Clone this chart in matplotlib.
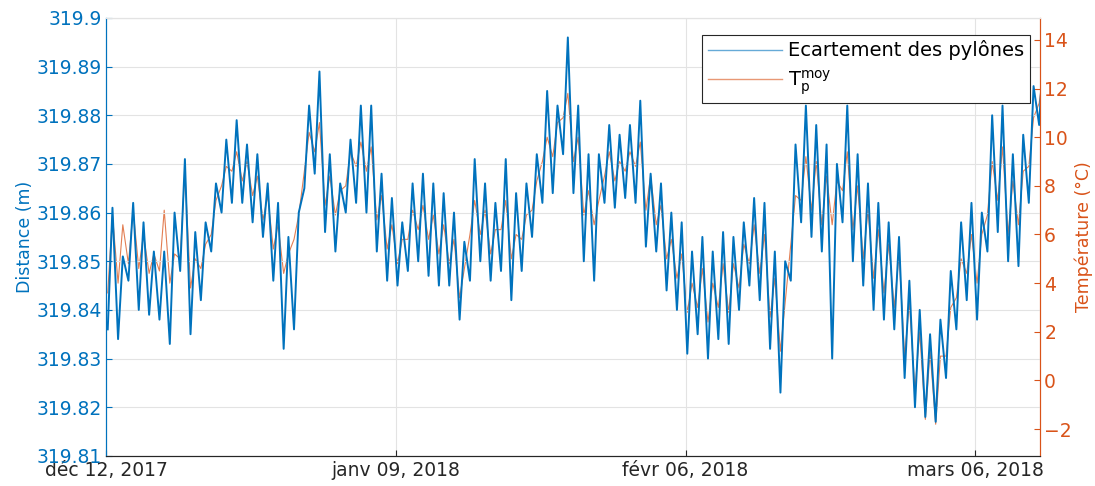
import numpy as np
import pandas as pd
import matplotlib
matplotlib.use('Agg')
import matplotlib.pyplot as plt
import matplotlib.dates as mdates

# jours depuis le 12 dec 2017 : distance mini (nuit) / maxi (apres-midi)
dist_bas = [319.836, 319.834, 319.846, 319.840, 319.839, 319.838, 319.833, 319.848, 319.835, 319.842,
            319.852, 319.860, 319.862, 319.862, 319.858, 319.855, 319.846, 319.832, 319.836, 319.865,
            319.868, 319.856, 319.852, 319.860, 319.862, 319.860, 319.852, 319.846, 319.845, 319.848,
            319.850, 319.847, 319.845, 319.845, 319.838, 319.846, 319.850, 319.846, 319.848, 319.842,
            319.848, 319.855, 319.862, 319.864, 319.872, 319.864, 319.850, 319.846, 319.862, 319.861,
            319.863, 319.862, 319.853, 319.852, 319.844, 319.840, 319.831, 319.835, 319.830, 319.834,
            319.833, 319.840, 319.845, 319.842, 319.832, 319.823, 319.846, 319.858, 319.855, 319.852,
            319.830, 319.858, 319.850, 319.845, 319.840, 319.838, 319.836, 319.826, 319.820, 319.818,
            319.817, 319.826, 319.836, 319.842, 319.838, 319.852, 319.856, 319.850, 319.849, 319.862,
            319.878]
dist_haut = [319.861, 319.851, 319.862, 319.858, 319.852, 319.852, 319.860, 319.871, 319.856, 319.858,
             319.866, 319.875, 319.879, 319.874, 319.872, 319.866, 319.862, 319.855, 319.860, 319.882,
             319.889, 319.872, 319.866, 319.875, 319.882, 319.882, 319.868, 319.863, 319.858, 319.866,
             319.868, 319.866, 319.864, 319.860, 319.854, 319.871, 319.866, 319.862, 319.871, 319.864,
             319.866, 319.872, 319.885, 319.882, 319.896, 319.882, 319.872, 319.872, 319.878, 319.876,
             319.878, 319.883, 319.868, 319.866, 319.860, 319.858, 319.852, 319.855, 319.852, 319.856,
             319.855, 319.858, 319.863, 319.862, 319.852, 319.850, 319.874, 319.882, 319.878, 319.874,
             319.870, 319.882, 319.872, 319.866, 319.862, 319.858, 319.855, 319.846, 319.840, 319.835,
             319.838, 319.848, 319.858, 319.862, 319.860, 319.880, 319.882, 319.872, 319.876, 319.886,
             319.896]

# temperature moyenne du pylone (degC)
temp_bas = [3.6, 4.0, 4.8, 4.6, 4.4, 4.5, 4.0, 5.0, 3.8, 4.6,
            6.0, 8.0, 8.6, 8.2, 7.6, 6.6, 5.4, 4.4, 5.8, 8.6,
            9.4, 7.2, 6.8, 8.0, 8.8, 8.6, 6.6, 5.4, 4.8, 5.8,
            6.2, 5.8, 5.2, 4.8, 3.4, 6.0, 6.0, 5.2, 6.2, 5.0,
            5.8, 7.0, 9.0, 9.2, 10.8, 9.0, 6.8, 6.4, 8.4, 8.2,
            8.6, 8.8, 7.0, 6.4, 5.0, 4.2, 2.8, 3.0, 2.4, 3.0,
            2.8, 3.8, 4.8, 4.4, 2.6, 1.2, 5.6, 7.4, 7.0, 6.4,
            6.4, 7.8, 6.2, 5.0, 4.2, 3.6, 3.0, 1.0, -0.4, -1.6,
            -1.8, 1.0, 3.4, 4.4, 4.0, 6.8, 7.4, 6.0, 6.4, 8.8,
            11.4]
temp_haut = [6.8, 6.4, 7.0, 6.0, 5.2, 7.0, 5.2, 8.6, 5.0, 5.6,
             7.4, 8.8, 9.4, 9.0, 8.4, 7.6, 6.4, 5.2, 6.8, 10.2,
             10.6, 8.4, 7.8, 9.4, 9.8, 9.6, 7.6, 6.4, 5.8, 7.0,
             7.2, 6.8, 6.4, 5.8, 4.6, 7.4, 7.0, 6.2, 7.4, 6.0,
             6.8, 8.2, 10.0, 10.6, 11.8, 10.0, 7.8, 7.4, 9.4, 9.0,
             9.4, 9.8, 8.4, 7.2, 5.8, 5.2, 4.0, 4.6, 4.0, 4.8,
             4.8, 5.6, 6.4, 6.0, 4.2, 3.2, 7.6, 9.2, 9.0, 8.4,
             8.2, 9.4, 8.0, 7.0, 6.2, 5.6, 5.2, 3.2, 2.0, 1.2,
             1.0, 3.0, 5.0, 6.0, 6.0, 9.0, 9.6, 8.2, 8.6, 10.8,
             12.8]

debut = pd.Timestamp('2017-12-12')
jours = pd.date_range(debut, periods=len(dist_bas), freq='D')
# mini vers 4h, maxi vers 15h
t = np.empty(2 * len(jours), dtype='datetime64[ns]')
t[0::2] = (jours + pd.Timedelta(hours=4)).values
t[1::2] = (jours + pd.Timedelta(hours=15)).values
dist = np.empty(2 * len(jours))
dist[0::2] = dist_bas
dist[1::2] = dist_haut
temp = np.empty(2 * len(jours))
temp[0::2] = temp_bas
temp[1::2] = temp_haut

ticks_dates = ['2017-12-12', '2018-01-09', '2018-02-06', '2018-03-06']
ticks_labels = ['déc 12, 2017', 'janv 09, 2018', 'févr 06, 2018', 'mars 06, 2018']
dist_ticks = [319.81, 319.82, 319.83, 319.84, 319.85, 319.86, 319.87, 319.88, 319.89, 319.9]
temp_ticks = [-2, 0, 2, 4, 6, 8, 10, 12, 14]

bleu = '#0072BD'
orange = '#D95319'
plt.rcParams['font.family'] = 'DejaVu Sans'

fig = plt.figure(figsize=(10.95, 4.86), dpi=100)
ax = fig.add_axes([0.0968, 0.062, 0.853, 0.901])
ax2 = ax.twinx()

l1, = ax.plot(t, dist, color=bleu, lw=1.4, zorder=3)
l2, = ax2.plot(t, temp, color=orange, lw=0.8, alpha=0.75)
# courbe bleue au-dessus de l'orange
ax.set_zorder(2)
ax.patch.set_visible(False)

ax.set_xlim(debut, debut + pd.Timedelta(days=90.25))
ax.set_ylim(319.81, 319.9)
ax2.set_ylim(-3.1, 14.9)

ax.set_yticks(dist_ticks)
ax.set_yticklabels([('%g' % v) for v in dist_ticks])
ax2.set_yticks(temp_ticks)
ax.set_xticks(mdates.date2num(pd.to_datetime(ticks_dates)))
ax.set_xticklabels(ticks_labels)

ax.grid(True, color='#e3e3e3', lw=0.8)
ax.tick_params(axis='both', direction='in', labelsize=13.5, length=4)
ax.tick_params(axis='y', colors=bleu, pad=3)
ax.tick_params(axis='x', colors='#262626', pad=4)
ax2.tick_params(axis='y', direction='in', colors=orange, labelsize=13.5, length=4, pad=3)

ax.set_ylabel('Distance (m)', color=bleu, fontsize=12.5, labelpad=2)
ax2.set_ylabel('Température (°C)', color=orange, fontsize=12.5, labelpad=2)

for a in (ax, ax2):
    a.spines['left'].set_color(bleu)
    a.spines['right'].set_color(orange)
    a.spines['bottom'].set_color('#262626')
    a.spines['top'].set_color('#e3e3e3')

leg = ax.legend([l1, l2], ['Ecartement des pylônes', '$\\mathrm{T}_\\mathrm{p}^\\mathrm{moy}$'],
                loc='upper right', bbox_to_anchor=(0.989, 0.962), fontsize=14, fancybox=False,
                framealpha=1, edgecolor='#262626', handlelength=3.8, handletextpad=0.3,
                borderpad=0.3, labelspacing=0.4, borderaxespad=0)
leg.get_frame().set_linewidth(0.8)
for h in leg.get_lines():
    h.set_linewidth(1.0)
    h.set_alpha(0.6)

plt.savefig('out.png', dpi=100)
